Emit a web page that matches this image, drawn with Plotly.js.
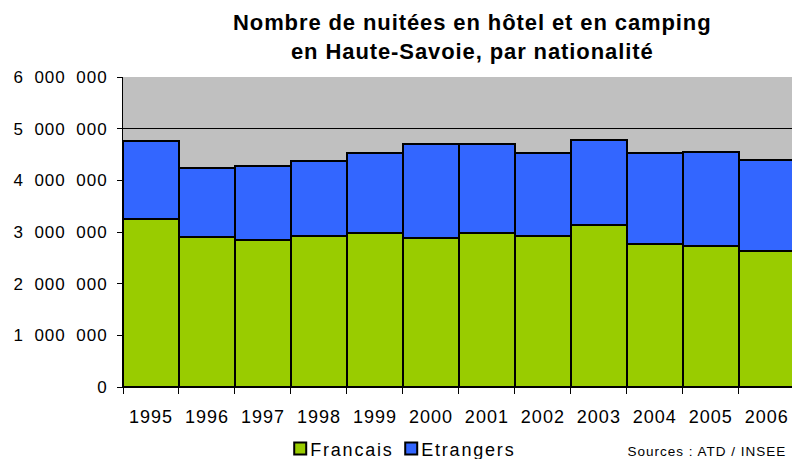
<!DOCTYPE html>
<html>
<head>
<meta charset="utf-8">
<script src="https://cdn.plot.ly/plotly-3.0.1.min.js"></script>
<style>
html,body{margin:0;padding:0;background:#fff;}
#chart{width:792px;height:459px;}
.annotation[data-index="0"] text{letter-spacing:0.9px;}
.annotation[data-index="1"] text{letter-spacing:1px;}
.xtick text{letter-spacing:1px;}
.ytick text{letter-spacing:1px;}
.legendtext{letter-spacing:1.8px; transform:translateX(-10px);}
.legend .scrollbox{clip-path:none !important;}
</style>
</head>
<body>
<div id="chart"></div>
<script>
const years = ['1995','1996','1997','1998','1999','2000','2001','2002','2003','2004','2005','2006'];
const francais = [3245000, 2900000, 2845000, 2915000, 2990000, 2880000, 2990000, 2915000, 3140000, 2775000, 2720000, 2640000];
const etrangers = [1515000, 1345000, 1435000, 1465000, 1530000, 1830000, 1710000, 1620000, 1650000, 1755000, 1830000, 1760000];
const yTickVals = [0, 1000000, 2000000, 3000000, 4000000, 5000000, 6000000];
const yTickText = ['0', '1\u2007000\u2007000', '2\u2007000\u2007000', '3\u2007000\u2007000', '4\u2007000\u2007000', '5\u2007000\u2007000', '6\u2007000\u2007000'];
const titleText = '<b>Nombre de nuitées en hôtel et en camping<br>en Haute-Savoie, par nationalité</b>';
const sourceText = 'Sources : ATD / INSEE';

const font = 'Liberation Sans, Arial, sans-serif';
const traces = [
  {type:'bar', name:'Francais', x:years, y:francais,
   marker:{color:'#99CC00', line:{color:'#000', width:2}}},
  {type:'bar', name:'Etrangers', x:years, y:etrangers,
   marker:{color:'#3366FF', line:{color:'#000', width:2}}}
];
const layout = {
  width:792, height:459,
  barmode:'stack', bargap:0,
  paper_bgcolor:'#fff', plot_bgcolor:'#C0C0C0',
  margin:{l:123, r:0, t:77, b:72, autoexpand:false},
  font:{family:font, size:17, color:'#000'},
  xaxis:{type:'category', range:[-0.5, 11.45], tickson:'boundaries', ticks:'outside', ticklen:6,
         tickcolor:'#000', showline:true, linecolor:'#000', linewidth:1, showgrid:false,
         ticklabelstandoff:13,
         tickfont:{family:font, size:18}, fixedrange:true},
  yaxis:{range:[0, 6000000], tickvals:yTickVals, ticktext:yTickText, ticks:'outside', ticklen:5,
         tickcolor:'#000', showline:true, linecolor:'#000', linewidth:1,
         showgrid:true, gridcolor:'#000', gridwidth:1, zeroline:false,
         ticklabelstandoff:6,
         tickfont:{family:font, size:17}, fixedrange:true},
  showlegend:true,
  legend:{orientation:'h', x:0.235, xanchor:'left', y:-0.14, yanchor:'top', traceorder:'normal',
          font:{family:font, size:18}, itemwidth:30, bgcolor:'rgba(0,0,0,0)', entrywidth:66},
  annotations:[
    {text:titleText, xref:'paper', yref:'paper', x:0.523, xanchor:'center', y:1.13, yanchor:'middle',
     showarrow:false, font:{family:font, size:22, color:'#000'}},
    {text:sourceText, xref:'paper', yref:'paper', x:0.9795, xanchor:'right',
     y:-0.178, yanchor:'top', showarrow:false, font:{family:font, size:13.5, color:'#000'}}
  ]
};
Plotly.newPlot('chart', traces, layout, {displayModeBar:false, staticPlot:true});
</script>
</body>
</html>
